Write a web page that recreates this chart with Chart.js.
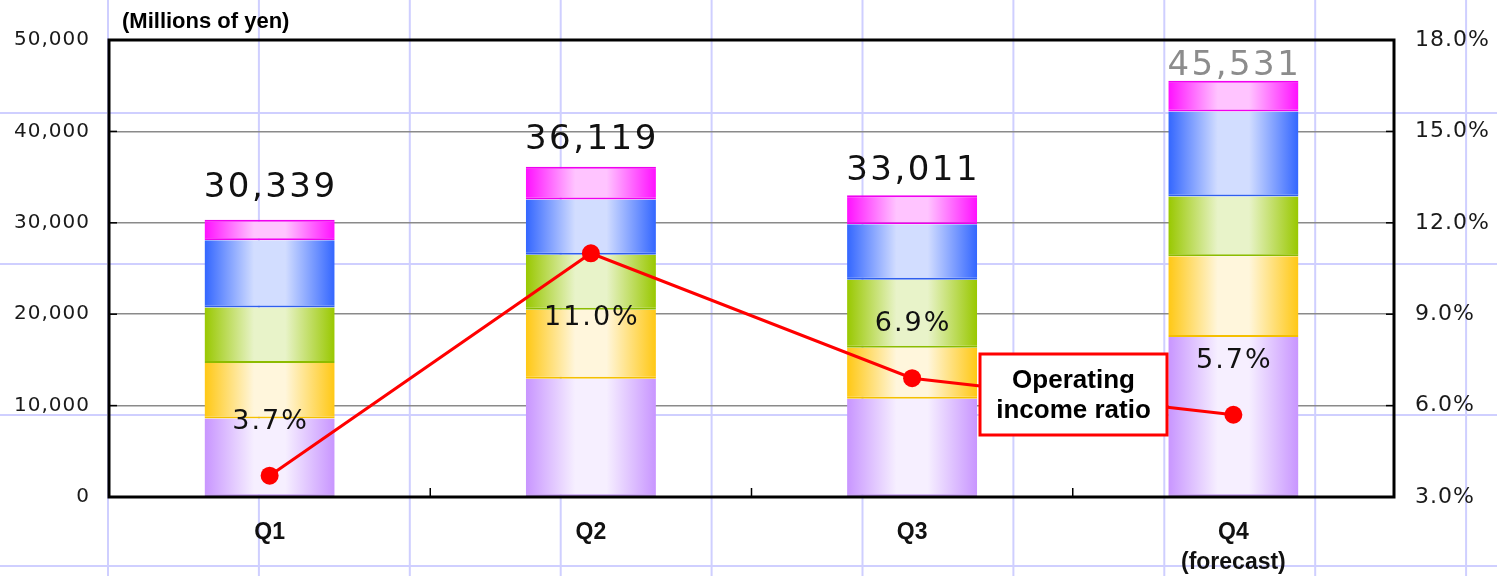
<!DOCTYPE html>
<html>
<head>
<meta charset="utf-8">
<script src="https://cdn.jsdelivr.net/npm/chart.js@4"></script>
<style>
  html, body { margin: 0; padding: 0; background: #fff; }
  .wrap { width: 1497px; height: 576px; }
</style>
</head>
<body>
<div class="wrap"><canvas id="chart"></canvas></div>
<script>
// categories
const quarters = [['Q1'], ['Q2'], ['Q3'], ['Q4', '(forecast)']];

// segment sales, millions of yen (stacked bottom -> top)
const segPurple  = [8580, 12950, 10760, 17500];
const segYellow  = [6090,  7550,  5580,  8830];
const segGreen   = [6070,  6010,  7440,  6560];
const segBlue    = [7360,  6050,  6050,  9300];
const segMagenta = [2239,  3559,  3181,  3341];

// operating income ratio, %
const opRatio = [3.7, 11.0, 6.9, 5.7];

// tick labels
const yenTicks = [0, 10000, 20000, 30000, 40000, 50000];
const ratioTicks = [3, 6, 9, 12, 15, 18];

const BAR_PCT = 0.405;

// horizontal "cylinder" shading like the original Excel bars
function barFill(edge, light) {
  return (c) => {
    const chart = c.chart;
    const xs = chart.scales.x;
    if (!xs || !chart.chartArea || c.dataIndex === undefined) return edge;
    const cx = xs.getPixelForValue(c.dataIndex);
    const half = xs.width / quarters.length * BAR_PCT / 2;
    const g = chart.ctx.createLinearGradient(cx - half, 0, cx + half, 0);
    g.addColorStop(0, edge);
    g.addColorStop(0.38, light);
    g.addColorStop(0.62, light);
    g.addColorStop(1, edge);
    return g;
  };
}

const segments = [
  { data: segPurple,  edge: '#c895ff', light: '#f6efff', line: '#b98aee' },
  { data: segYellow,  edge: '#ffc814', light: '#fff6dc', line: '#f5c000' },
  { data: segGreen,   edge: '#99c800', light: '#e8f3c9', line: '#8cbc00' },
  { data: segBlue,    edge: '#3366ff', light: '#d2ddff', line: '#2f5fee' },
  { data: segMagenta, edge: '#ff10ff', light: '#ffc4ff', line: '#f000f0' },
];

const barSets = segments.map((s, k) => ({
  type: 'bar',
  data: s.data,
  yAxisID: 'y',
  backgroundColor: barFill(s.edge, s.light),
  borderColor: s.line,
  borderWidth: k === segments.length - 1 ? { top: 2, bottom: 2 } : { bottom: 2 },
  borderSkipped: false,
  barPercentage: BAR_PCT,
  categoryPercentage: 1,
  order: 1
}));

// per-axis letter spacing (the canvas API has no per-scale option)
const spacing = { x: '0px', y: '1px', y1: '1px' };

const decor = {
  id: 'decor',
  afterLayout(chart) {
    Object.keys(spacing).forEach(id => {
      const s = chart.scales[id];
      if (!s || s._spaced) return;
      const orig = s.drawLabels.bind(s);
      s.drawLabels = function (area) {
        const c = this.ctx;
        const prev = c.letterSpacing;
        c.letterSpacing = spacing[id];
        orig(area);
        c.letterSpacing = prev;
      };
      s._spaced = true;
    });
  },
  beforeDraw(chart) {
    const ctx = chart.ctx;
    ctx.save();
    ctx.fillStyle = '#fff';
    ctx.fillRect(0, 0, chart.width, chart.height);
    // lavender page grid behind everything
    ctx.strokeStyle = '#cfcfff';
    ctx.lineWidth = 2;
    for (let x = 108; x < chart.width; x += 150.9) {
      ctx.beginPath(); ctx.moveTo(x, 0); ctx.lineTo(x, chart.height); ctx.stroke();
    }
    for (let y = 113 - 151; y < chart.height; y += 151) {
      ctx.beginPath(); ctx.moveTo(0, y); ctx.lineTo(chart.width, y); ctx.stroke();
    }
    ctx.restore();
  },
  afterDraw(chart, args, opts) {
    const ctx = chart.ctx;
    const a = chart.chartArea;
    const xs = chart.scales.x, ys = chart.scales.y, y1 = chart.scales.y1;
    ctx.save();

    // plot frame and inward ticks
    ctx.strokeStyle = '#000';
    ctx.lineWidth = 3;
    ctx.strokeRect(a.left, a.top, a.right - a.left, a.bottom - a.top);
    ctx.lineWidth = 1.5;
    yenTicks.forEach(v => {
      const y = ys.getPixelForValue(v);
      ctx.beginPath(); ctx.moveTo(a.left, y); ctx.lineTo(a.left + 8, y); ctx.stroke();
    });
    ratioTicks.forEach(v => {
      const y = y1.getPixelForValue(v);
      ctx.beginPath(); ctx.moveTo(a.right, y); ctx.lineTo(a.right - 8, y); ctx.stroke();
    });
    const step = (a.right - a.left) / quarters.length;
    for (let i = 1; i < quarters.length; i++) {
      const x = a.left + step * i;
      ctx.beginPath(); ctx.moveTo(x, a.bottom); ctx.lineTo(x, a.bottom - 9); ctx.stroke();
    }

    // totals above bars
    ctx.font = '34px "DejaVu Sans"';
    ctx.letterSpacing = '2.5px';
    ctx.textAlign = 'center';
    ctx.textBaseline = 'alphabetic';
    quarters.forEach((q, i) => {
      const total = segments.reduce((s, seg) => s + seg.data[i], 0);
      ctx.fillStyle = i === quarters.length - 1 ? '#8c8c8c' : '#111';
      ctx.fillText(total.toLocaleString('en-US'), xs.getPixelForValue(i) + 1,
        ys.getPixelForValue(total) - opts.totalGap[i]);
    });

    // ratio labels
    ctx.font = '27px "DejaVu Sans"';
    ctx.letterSpacing = '2px';
    ctx.fillStyle = '#111';
    ctx.textBaseline = 'middle';
    opRatio.forEach((v, i) => {
      const y = y1.getPixelForValue(v) + (opts.ratioAbove[i] ? -54 : 65);
      ctx.fillText(v.toFixed(1) + '%', xs.getPixelForValue(i) + 1, y);
    });

    // unit caption
    ctx.letterSpacing = '0px';
    ctx.font = 'bold 22px "Liberation Sans"';
    ctx.textAlign = 'left';
    ctx.fillStyle = '#000';
    ctx.fillText('(Millions of yen)', a.left + 13, 22);

    // callout box for the line series
    const bx = 980, by = 354, bw = 187, bh = 81;
    ctx.fillStyle = '#fff';
    ctx.fillRect(bx, by, bw, bh);
    ctx.strokeStyle = '#ff0000';
    ctx.lineWidth = 3;
    ctx.strokeRect(bx, by, bw, bh);
    ctx.fillStyle = '#000';
    ctx.textAlign = 'center';
    ctx.font = 'bold 26px "Liberation Sans"';
    ctx.fillText('Operating', bx + bw / 2, by + 27);
    ctx.fillText('income ratio', bx + bw / 2, by + 57);
    ctx.restore();
  }
};

new Chart(document.getElementById('chart'), {
  data: {
    labels: quarters,
    datasets: [
      ...barSets,
      {
        type: 'line',
        data: opRatio,
        yAxisID: 'y1',
        borderColor: '#ff0000',
        backgroundColor: '#ff0000',
        borderWidth: 3,
        pointRadius: 9,
        pointHoverRadius: 9,
        pointBorderWidth: 0,
        tension: 0,
        order: 0
      }
    ]
  },
  options: {
    responsive: true,
    maintainAspectRatio: false,
    animation: false,
    devicePixelRatio: 1,
    layout: { padding: { top: 40, left: 0, right: 0, bottom: 0 } },
    scales: {
      x: {
        stacked: true,
        grid: { display: false, drawTicks: false },
        border: { display: false },
        ticks: {
          padding: 21,
          color: '#111',
          font: { family: 'Liberation Sans', weight: 'bold', size: 23, lineHeight: 1.3 }
        },
        afterFit(s) { s.height = 79; }
      },
      y: {
        stacked: true,
        position: 'left',
        min: 0, max: 50000,
        afterBuildTicks(s) { s.ticks = yenTicks.map(v => ({ value: v })); },
        grid: {
          drawTicks: false,
          color: c => (c.tick && (c.tick.value === 0 || c.tick.value === 50000)) ? 'rgba(0,0,0,0)' : '#8a8a8a',
          lineWidth: 1.5
        },
        border: { display: false },
        ticks: {
          padding: 19,
          color: '#1a1a1a',
          font: { family: 'DejaVu Sans', size: 20 },
          callback: v => v.toLocaleString('en-US')
        },
        afterFit(s) { s.width = 109; }
      },
      y1: {
        position: 'right',
        min: 3, max: 18,
        afterBuildTicks(s) { s.ticks = ratioTicks.map(v => ({ value: v })); },
        grid: { display: false, drawTicks: false },
        border: { display: false },
        ticks: {
          padding: 21,
          color: '#1a1a1a',
          font: { family: 'DejaVu Sans', size: 22 },
          callback: v => v.toFixed(1) + '%'
        },
        afterFit(s) { s.width = 103; }
      }
    },
    plugins: {
      legend: { display: false },
      tooltip: { enabled: false },
      decor: { totalGap: [23, 18, 15, 6], ratioAbove: [true, false, true, true] }
    }
  },
  plugins: [decor]
});
</script>
</body>
</html>
